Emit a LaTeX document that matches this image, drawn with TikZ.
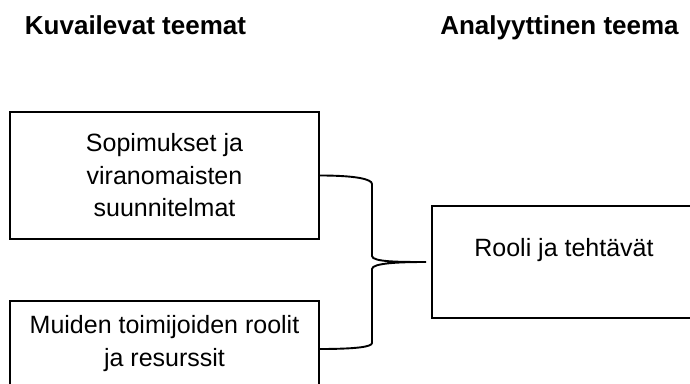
\documentclass[tikz,border=0pt]{standalone}
\usepackage{fontspec}
\setmainfont{Liberation Sans}
\begin{document}
\begin{tikzpicture}[x=1pt,y=1pt,
  box/.style={draw=black, line width=1.9pt, inner sep=0pt, align=center,
    font=\fontsize{25}{32.5}\selectfont},
  head/.style={font=\fontsize{26}{30}\selectfont\bfseries, anchor=base, inner sep=0pt},
  body/.style={font=\fontsize{25}{32.5}\selectfont, align=center, inner sep=0pt},
  brace/.style={draw=black, line width=1.9pt}]
\clip (0,0) rectangle (690,383);
\fill[white] (0,0) rectangle (690,383);
% headings
\node[head] (h1) at (135.5,348) {Kuvailevat teemat};
\node[head] (h2) at (559.5,348) {Analyyttinen teema};
% boxes
\node[box, minimum width=309, minimum height=127] (tbox) at (164.5,207.5)
  {Sopimukset ja\\viranomaisten\\suunnitelmat};
\node[box, minimum width=309, minimum height=85] (bbox) at (164.5,39.5)
  {Muiden toimijoiden roolit\\ja resurssit};
\node[box, minimum width=264, minimum height=112] (rbox) at (564,121) {};
\node[body] (rtext) at ([yshift=12pt]rbox.center) {Rooli ja tehtävät};
% brace
\coordinate (a1) at (tbox.east);
\coordinate (a2) at (319,34);
\coordinate (tip) at ([xshift=-5pt]rbox.west);
\draw[brace] (a1) .. controls (355,207.5) and (372,204) .. (372,199)
  -- (372,127) .. controls (372,121) and (400,121) .. (tip)
  .. controls (400,121) and (372,120) .. (372,114)
  -- (372,40) .. controls (372,36) and (355,34) .. (a2);
\end{tikzpicture}
\end{document}
